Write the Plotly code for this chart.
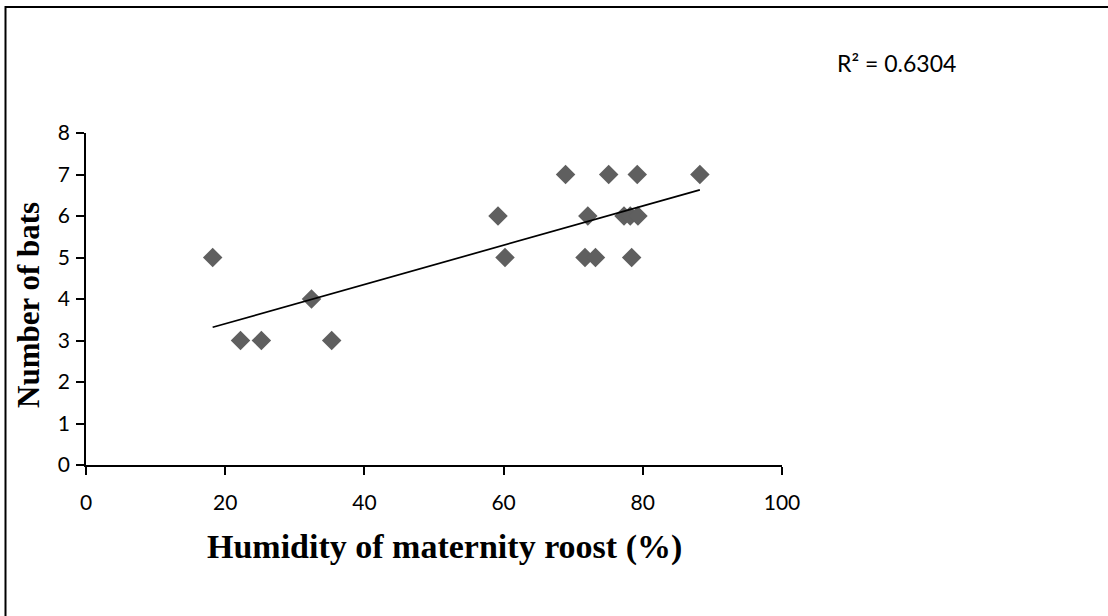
import numpy as np
import plotly.graph_objects as go

# Data
humidity = [18.2, 22.2, 25.2, 32.4, 35.3, 59.2, 60.2, 68.9, 71.7, 72.1,
            73.2, 75.1, 77.3, 78.2, 79.3, 78.4, 79.2, 88.2]
bats = [5, 3, 3, 4, 3, 6, 5, 7, 5, 6, 5, 7, 6, 6, 6, 5, 7, 7]
r2_label = "R² = 0.6304"
x_title = "Humidity of maternity roost (%)"
y_title = "Number of bats"
x_ticks = [0, 20, 40, 60, 80, 100]
y_ticks = [0, 1, 2, 3, 4, 5, 6, 7, 8]

# Linear trendline from the data
slope, intercept = np.polyfit(humidity, bats, 1)
x_fit = [min(humidity), max(humidity)]
y_fit = [slope * v + intercept for v in x_fit]

fig = go.Figure()
fig.add_trace(go.Scatter(
    x=humidity, y=bats, mode="markers",
    marker=dict(symbol="diamond", size=15, color="#5f5f5f", line=dict(width=0)),
    showlegend=False, hoverinfo="x+y"))
fig.add_trace(go.Scatter(
    x=x_fit, y=y_fit, mode="lines",
    line=dict(color="black", width=1.7),
    showlegend=False, hoverinfo="skip"))

tick_font = dict(family="Lato, Open Sans, sans-serif", size=21, color="black")
serif = "Liberation Serif, Times New Roman, serif"

L, T, W, H = 86, 133, 696, 332


def px(x):
    return (x - L) / W


def py(y):
    return (T + H - y) / H


fig.update_layout(
    width=1108, height=616,
    margin=dict(l=L, r=1108 - L - W, t=T, b=616 - T - H),
    paper_bgcolor="white", plot_bgcolor="white",
    xaxis=dict(
        range=[0, 100], tickvals=x_ticks, ticktext=[str(v) for v in x_ticks],
        showgrid=False, zeroline=False, showline=True, linecolor="black", linewidth=1.5,
        ticks="outside", ticklen=8, tickwidth=1.5, tickcolor="black",
        tickfont=tick_font, ticklabelstandoff=10,
    ),
    yaxis=dict(
        range=[0, 8], tickvals=y_ticks, ticktext=[str(v) for v in y_ticks],
        showgrid=False, zeroline=False, showline=True, linecolor="black", linewidth=1.5,
        ticks="outside", ticklen=8, tickwidth=1.5, tickcolor="black",
        tickfont=tick_font, ticklabelstandoff=2,
    ),
    annotations=[
        dict(text=r2_label, xref="paper", yref="paper",
             x=px(835), y=py(63), xanchor="left", yanchor="middle",
             showarrow=False, font=dict(family="Lato, Open Sans, sans-serif", size=23, color="black")),
        dict(text="<b>" + x_title + "</b>", xref="paper", yref="paper",
             x=px(444), y=py(547), xanchor="center", yanchor="middle",
             showarrow=False, font=dict(family=serif, size=34, color="black")),
        dict(text="<b>" + y_title + "</b>", xref="paper", yref="paper",
             x=px(28), y=py(305), xanchor="center", yanchor="middle", textangle=-90,
             showarrow=False, font=dict(family=serif, size=31, color="black")),
    ],
    shapes=[dict(
        type="rect", xref="paper", yref="paper",
        x0=px(5.5), x1=px(1120), y0=py(630), y1=py(7),
        line=dict(color="black", width=2), fillcolor="rgba(0,0,0,0)", layer="below")],
)

fig.write_html("out.html")
